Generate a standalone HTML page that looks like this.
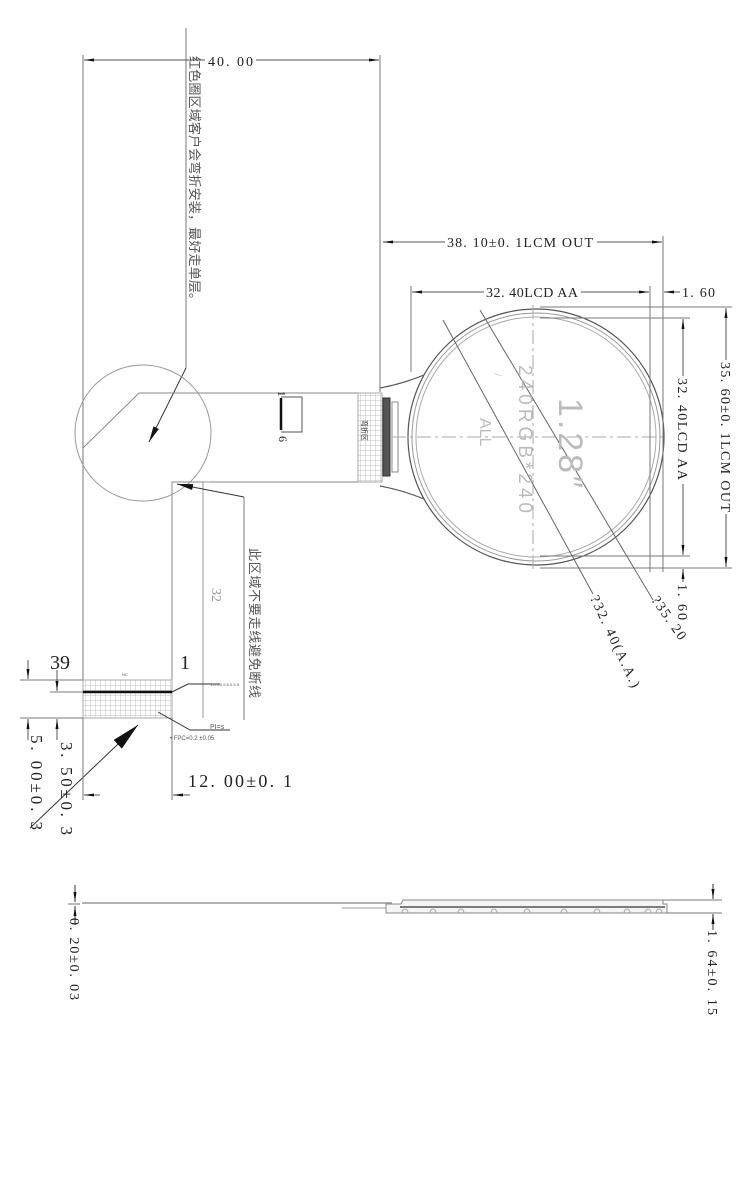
<!DOCTYPE html>
<html><head><meta charset="utf-8"><style>
html,body{margin:0;padding:0;background:#fff;}
svg{display:block;}
text{font-family:"Liberation Serif","Noto Serif CJK SC",serif;fill:#222;}
.cj{font-family:"Liberation Sans","Noto Sans CJK SC",sans-serif;fill:#555;}
</style></head><body>
<svg width="750" height="1200" viewBox="0 0 750 1200" xmlns="http://www.w3.org/2000/svg">
<defs>
<marker id="a" markerWidth="10" markerHeight="6" refX="10" refY="3" orient="auto-start-reverse" markerUnits="userSpaceOnUse"><path d="M0,1.5 L10,3 L0,4.5Z" fill="#111"/></marker>
<marker id="b" markerWidth="28" markerHeight="12" refX="28" refY="6" orient="auto" markerUnits="userSpaceOnUse"><path d="M0,0 L28,6 L0,12Z" fill="#111"/></marker>
<marker id="c" markerWidth="16" markerHeight="8" refX="16" refY="4" orient="auto" markerUnits="userSpaceOnUse"><path d="M0,1 L16,4 L0,7Z" fill="#111"/></marker>
<pattern id="h" width="5" height="5" patternUnits="userSpaceOnUse"><path d="M0,0H5M0,0V5" stroke="#aaa" stroke-width="0.7" fill="none"/></pattern>
</defs>
<g stroke="#777" stroke-width="1" fill="none">
<line x1="83" y1="55" x2="83" y2="720"/>
<line x1="380" y1="55" x2="380" y2="392"/>
<line x1="186" y1="28" x2="186" y2="368"/>
<line x1="186" y1="368" x2="149" y2="442" stroke="#333" marker-end="url(#c)"/>
<line x1="84" y1="60" x2="205" y2="60" marker-start="url(#a)" stroke="#555"/>
<line x1="256" y1="60" x2="379" y2="60" marker-end="url(#a)" stroke="#555"/>
<circle cx="143" cy="433" r="68" stroke="#999"/>
<path d="M382,393 H139 L83,448 M172,718 V482 H382" stroke="#888"/>
<line x1="203" y1="482" x2="203" y2="718" stroke="#999"/>
<line x1="203" y1="482" x2="210" y2="482" stroke="#999"/>
<rect x="358" y="393" width="24" height="89" fill="url(#h)" stroke="#aaa"/>
<rect x="83" y="680" width="89" height="38" fill="url(#h)" stroke="#aaa"/>
<line x1="83" y1="692" x2="172" y2="692" stroke="#111" stroke-width="2.5"/>
<path d="M281,397 H302 V432 H281" stroke="#555"/>
<line x1="281" y1="398" x2="281" y2="430" stroke="#111" stroke-width="2.5"/>
<rect x="383" y="398" width="7" height="78" fill="#555" stroke="#333"/>
<rect x="392" y="402" width="6" height="70" stroke="#888"/>
<line x1="244" y1="497" x2="177" y2="484" stroke="#333" marker-end="url(#c)"/>
<line x1="244" y1="497" x2="244" y2="720"/>
<line x1="20" y1="680" x2="83" y2="680"/>
<line x1="20" y1="718" x2="83" y2="718"/>
<line x1="50" y1="692" x2="83" y2="692"/>
<line x1="28" y1="660" x2="28" y2="679" marker-end="url(#a)" stroke="#555"/>
<line x1="28" y1="740" x2="28" y2="719" marker-end="url(#a)" stroke="#555"/>
<line x1="57" y1="670" x2="57" y2="691" marker-end="url(#a)" stroke="#555"/>
<line x1="57" y1="740" x2="57" y2="719" marker-end="url(#a)" stroke="#555"/>
<line x1="30" y1="828" x2="138" y2="725" stroke="#333" marker-end="url(#b)"/>
<line x1="83" y1="718" x2="83" y2="800"/>
<line x1="172" y1="718" x2="172" y2="800"/>
<line x1="100" y1="795" x2="84" y2="795" marker-end="url(#a)" stroke="#555"/>
<line x1="190" y1="795" x2="173" y2="795" marker-end="url(#a)" stroke="#555"/>
<path d="M172,692 L188,684 H220" stroke="#333"/>
<path d="M158,712 L190,730 H230" stroke="#333"/>
<circle cx="536" cy="437" r="128" stroke="#555" stroke-width="1.2"/>
<path d="M380,388 Q402,384 424,375 M380,486 Q402,490 424,499" stroke="#555" stroke-width="1.2"/>
<circle cx="536" cy="437" r="124" stroke="#999"/>
<circle cx="536" cy="437" r="120" stroke="#aaa"/>
<line x1="392" y1="437" x2="665" y2="437" stroke="#aaa" stroke-dasharray="14,4,3,4"/>
<line x1="533" y1="305" x2="533" y2="572" stroke="#aaa" stroke-dasharray="14,4,3,4"/>
<line x1="663" y1="236" x2="663" y2="572"/>
<line x1="650" y1="286" x2="650" y2="572"/>
<line x1="411" y1="286" x2="411" y2="372"/>
<line x1="383" y1="242" x2="445" y2="242" marker-start="url(#a)" stroke="#555"/>
<line x1="597" y1="242" x2="662" y2="242" marker-end="url(#a)" stroke="#555"/>
<line x1="412" y1="292" x2="484" y2="292" marker-start="url(#a)" stroke="#555"/>
<line x1="581" y1="292" x2="649" y2="292" marker-end="url(#a)" stroke="#555"/>
<line x1="680" y1="292" x2="664" y2="292" marker-end="url(#a)" stroke="#555"/>
<line x1="540" y1="307" x2="732" y2="307"/>
<line x1="540" y1="318" x2="690" y2="318"/>
<line x1="540" y1="556" x2="690" y2="556"/>
<line x1="540" y1="568" x2="732" y2="568"/>
<line x1="726" y1="308" x2="726" y2="360" marker-start="url(#a)" stroke="#555"/>
<line x1="726" y1="514" x2="726" y2="567" marker-end="url(#a)" stroke="#555"/>
<line x1="683" y1="319" x2="683" y2="376" marker-start="url(#a)" stroke="#555"/>
<line x1="683" y1="484" x2="683" y2="555" marker-end="url(#a)" stroke="#555"/>
<line x1="683" y1="582" x2="683" y2="569" marker-end="url(#a)" stroke="#555"/>
<line x1="443" y1="320" x2="593" y2="594" stroke="#666"/>
<line x1="480" y1="310" x2="653" y2="600" stroke="#666"/>
<line x1="75" y1="885" x2="75" y2="902" marker-end="url(#a)" stroke="#333"/>
<line x1="75" y1="925" x2="75" y2="906" marker-end="url(#a)" stroke="#333"/>
<line x1="68" y1="904" x2="80" y2="904"/>
<line x1="82" y1="903" x2="392" y2="903" stroke="#999" stroke-width="1.5"/>
<line x1="342" y1="908" x2="392" y2="908" stroke="#999"/>
<path d="M386,913 V904 H401 L403,900 H663 V904 H667 V913 Z" stroke="#888" fill="#f4f4f4"/>
<line x1="400" y1="907" x2="665" y2="907" stroke="#555" stroke-width="1.5"/>
<path d="M402,913 a3,4 0 0 1 6,0 M430,913 a3,4 0 0 1 6,0 M458,913 a3,4 0 0 1 6,0 M491,913 a3,4 0 0 1 6,0 M524,913 a3,4 0 0 1 6,0 M561,913 a3,4 0 0 1 6,0 M594,913 a3,4 0 0 1 6,0 M624,913 a3,4 0 0 1 6,0 M645,913 a3,4 0 0 1 6,0 M656,913 a3,4 0 0 1 6,0" stroke="#aaa"/>
<line x1="663" y1="900" x2="722" y2="900"/>
<line x1="667" y1="913" x2="722" y2="913"/>
<line x1="713" y1="884" x2="713" y2="899" marker-end="url(#a)" stroke="#333"/>
<line x1="713" y1="930" x2="713" y2="914" marker-end="url(#a)" stroke="#333"/>
</g>
<text x="208" y="66" font-size="14" textLength="45">40. 00</text>
<text x="447" y="247" font-size="14" textLength="146">38. 10±0. 1LCM OUT</text>
<text x="486" y="297" font-size="14" textLength="92">32. 40LCD AA</text>
<text x="682" y="297" font-size="14" textLength="33">1. 60</text>
<text x="188" y="787" font-size="18" textLength="104">12. 00±0. 1</text>
<text x="50" y="669" font-size="20">39</text>
<text x="180" y="669" font-size="20">1</text>
<text x="122" y="676" font-size="4" class="cj">NC</text>
<text x="210" y="686" font-size="4" class="cj">1:0.5.0.5.5.0.5.5</text>
<text x="210" y="729" font-size="7" class="cj">PI=s</text>
<text x="170" y="740" font-size="6" class="cj">• FPC=0.2 ±0.05</text>
<g font-size="14">
<text transform="translate(31,735) rotate(90)" font-size="17" textLength="95">5. 00±0. 3</text>
<text transform="translate(61,742) rotate(90)" font-size="17" textLength="93">3. 50±0. 3</text>
<text transform="translate(721,362) rotate(90)" textLength="150">35. 60±0. 1LCM OUT</text>
<text transform="translate(678,378) rotate(90)" textLength="102">32. 40LCD AA</text>
<text transform="translate(678,584) rotate(90)" textLength="36">1. 60</text>
<text transform="translate(590,598) rotate(65)" textLength="100">?32. 40(A.A.)</text>
<text transform="translate(651,600) rotate(55)" textLength="50">?35. 20</text>
<text transform="translate(70,918) rotate(90)" textLength="82">0. 20±0. 03</text>
<text transform="translate(708,930) rotate(90)" textLength="85">1. 64±0. 15</text>
<text transform="translate(278,391) rotate(90)" font-size="11">1</text>
<text transform="translate(279,436) rotate(90)" font-size="12">6</text>
<text transform="translate(212,588) rotate(90)" font-size="14" style="fill:#999">32</text>
</g>
<g class="cj">
<text transform="translate(559,398) rotate(90)" font-size="34" style="fill:#bbb;font-family:'Liberation Sans',sans-serif" textLength="90">1.28″</text>
<text transform="translate(519,365) rotate(90)" font-size="19" style="fill:#bbb;font-family:'Liberation Sans',sans-serif" textLength="148">240RGB*240</text>
<text transform="translate(480,418) rotate(90)" font-size="16" style="fill:#bbb;font-family:'Liberation Sans',sans-serif">ALL</text>
<text transform="translate(494,373) rotate(90)" font-size="12" style="fill:#bbb">/</text>
</g>
<text class="cj" transform="translate(190,56) rotate(90)" font-size="13" textLength="250">红色圈区域客户会弯折安装，最好走单层。</text>
<text class="cj" transform="translate(250,548) rotate(90)" font-size="13" textLength="150">此区域不要走线避免断线</text>
<text class="cj" transform="translate(362,420) rotate(90)" font-size="7" style="fill:#333">弯折区</text>
</svg>
</body></html>
